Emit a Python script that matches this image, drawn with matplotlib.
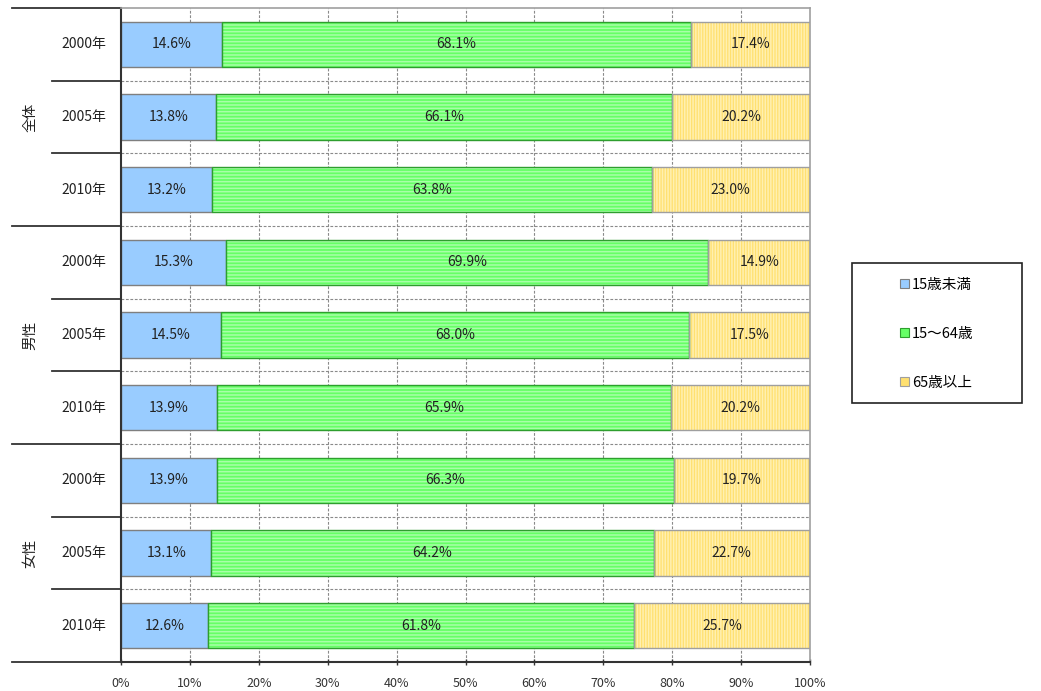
import matplotlib
matplotlib.use("Agg")
import matplotlib.pyplot as plt
from matplotlib.patches import Rectangle, Patch
from matplotlib.lines import Line2D

plt.rcParams['font.family'] = ['Noto Sans CJK JP', 'DejaVu Sans']
plt.rcParams['hatch.linewidth'] = 1.1

groups = ["全体", "男性", "女性"]
years = ["2000年", "2005年", "2010年"]
series = ["15歳未満", "15～64歳", "65歳以上"]

under15 = [14.6, 13.8, 13.2, 15.3, 14.5, 13.9, 13.9, 13.1, 12.6]
age15_64 = [68.1, 66.1, 63.8, 69.9, 68.0, 65.9, 66.3, 64.2, 61.8]
over65 = [17.4, 20.2, 23.0, 14.9, 17.5, 20.2, 19.7, 22.7, 25.7]

x_ticks = [0, 10, 20, 30, 40, 50, 60, 70, 80, 90, 100]
x_tick_labels = [f"{v}%" for v in x_ticks]

face_colors = ["#99CCFF", "#66FF66", "#FFE070"]
stripe_colors = [None, "#A8FFA8", "#FFF0B0"]
hatches = [None, "-----", "||||||"]
border_colors = ["#7F7F7F", "#2E9E2E", "#9F9F9F"]

fig = plt.figure(figsize=(10.41, 6.91), dpi=100)
W, H = 1041, 691
ax = fig.add_axes([121 / W, 1 - 662 / H, (810 - 121) / W, (662 - 8) / H])

n = len(under15)
rows = list(range(n))
bar_h = 0.62

# dashed grid behind the bars
for xv in x_ticks[1:-1]:
    ax.axvline(xv, color="#8A8A8A", lw=0.8, ls=(0, (2.5, 1.5)), zorder=0)
for k in range(n - 1):
    ax.axhline(k + 0.5, color="#8A8A8A", lw=0.8, ls=(0, (2.5, 1.5)), zorder=0)

values = [under15, age15_64, over65]
lefts = [0.0] * n
for s, vals in enumerate(values):
    if hatches[s] is None:
        ax.barh(rows, vals, left=lefts, height=bar_h, color=face_colors[s],
                edgecolor=border_colors[s], lw=1.0, zorder=2)
    else:
        ax.barh(rows, vals, left=lefts, height=bar_h, color=face_colors[s],
                edgecolor=stripe_colors[s], hatch=hatches[s], lw=0, zorder=2)
        ax.barh(rows, vals, left=lefts, height=bar_h, fill=False,
                edgecolor=border_colors[s], lw=1.0, zorder=3)
    for r in rows:
        ax.text(lefts[r] + vals[r] / 2, r, f"{vals[r]:.1f}%", ha="center",
                va="center", fontsize=10, color="#222222", zorder=4)
    lefts = [l + v for l, v in zip(lefts, vals)]

ax.set_xlim(0, 100)
ax.set_ylim(n - 0.5, -0.5)
ax.set_xticks(x_ticks)
ax.set_xticklabels(x_tick_labels, fontsize=9, color="#333333")
ax.set_yticks([])
ax.tick_params(axis="x", direction="inout", length=5, width=1.0, color="#333333", pad=8)

for side in ["top", "right"]:
    ax.spines[side].set_color("#A0A0A0")
    ax.spines[side].set_linewidth(1.2)
ax.spines["left"].set_color("#333333")
ax.spines["left"].set_linewidth(1.5)
ax.spines["bottom"].set_color("#333333")
ax.spines["bottom"].set_linewidth(1.5)

# category labels and separators to the left of the plot
long_x = (12 - 121) / (810 - 121)
short_x = (52 - 121) / (810 - 121)
trans = ax.get_yaxis_transform()
for r in rows:
    ax.text(-0.022, r, years[r % 3], transform=trans, ha="right", va="center",
            fontsize=10, color="#222222")
for k in range(n + 1):
    yv = k - 0.5
    x0 = long_x if k % 3 == 0 else short_x
    ax.add_line(Line2D([x0, 0], [yv, yv], transform=trans, color="#333333",
                       lw=1.3, clip_on=False))
for g, name in enumerate(groups):
    ax.text(long_x + 0.027, g * 3 + 1, name, transform=trans, ha="center",
            va="center", rotation=90, fontsize=10.5, color="#222222")

# legend in its own box
fig.patches.append(Rectangle((852 / W, 1 - 403 / H), 170 / W, 140 / H,
                             transform=fig.transFigure, fill=False,
                             edgecolor="#222222", lw=1.2))
handles = [Patch(facecolor=face_colors[i], edgecolor=border_colors[i], lw=0.8)
           for i in range(3)]
fig.legend(handles, series, loc="center", bbox_to_anchor=(937 / W, 1 - 334 / H),
           frameon=False, fontsize=10.5, handlelength=0.6, handleheight=0.6,
           handletextpad=0.2, labelspacing=2.4)

fig.savefig("out.png", dpi=100)
